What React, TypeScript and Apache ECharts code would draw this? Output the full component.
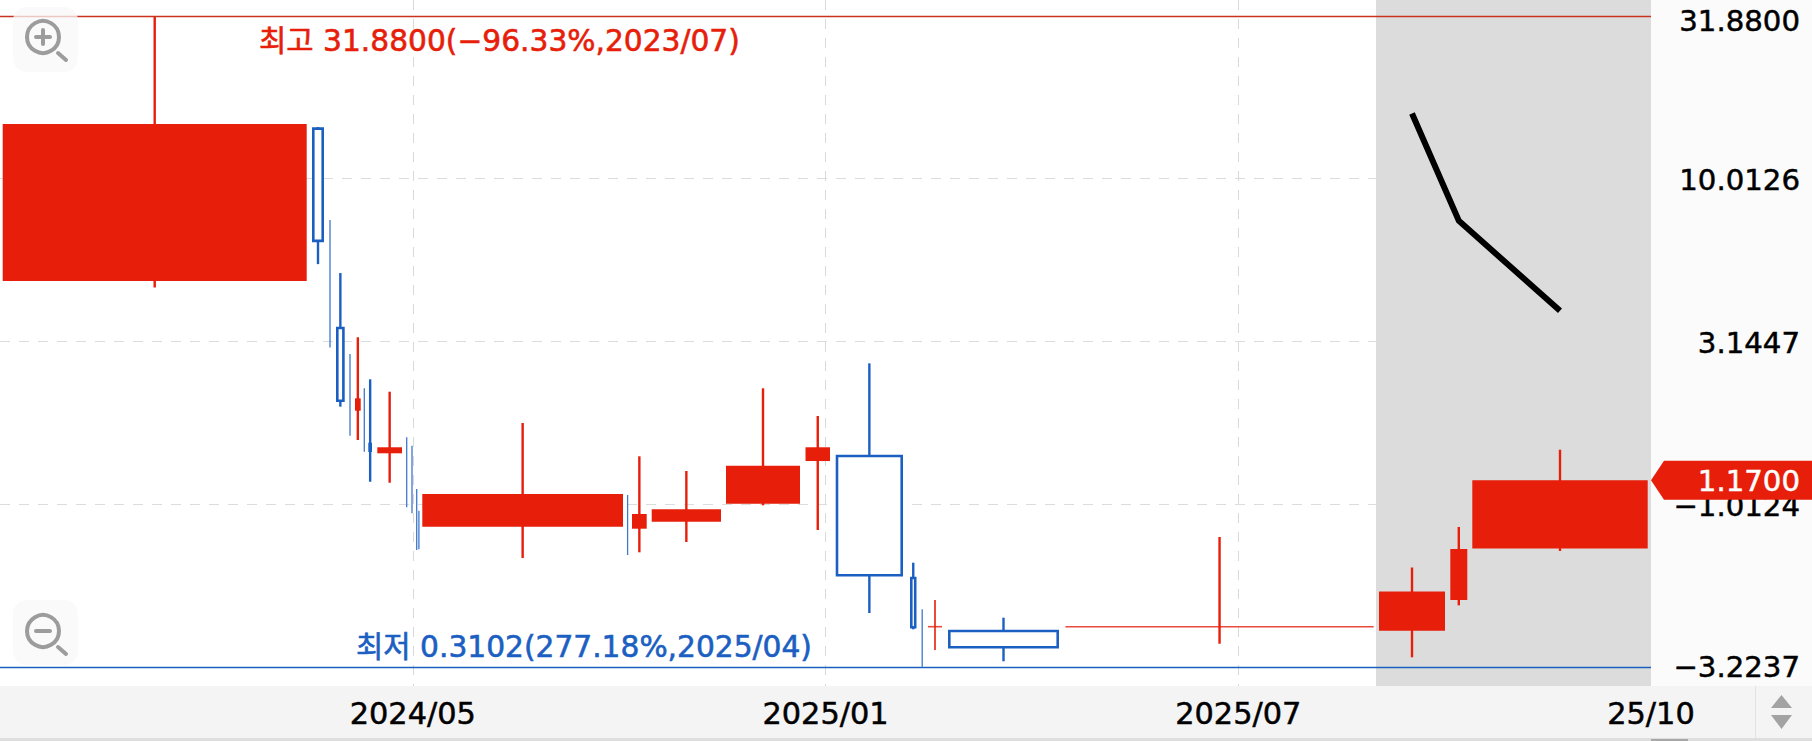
import React, { useEffect, useRef } from "react";
import * as echarts from "echarts";

// Price scale
const priceHigh = 31.88;
const priceLow = 0.3102;
const lastPrice = 1.17;
const yTickLabels = ["−3.2237", "−1.0124", "3.1447", "10.0126", "31.8800"];
const xTickLabels = ["", "2024/05", "2025/01", "2025/07", "25/10"];
const highLabel = "최고 31.8800(−96.33%,2023/07)";
const lowLabel = "최저 0.3102(277.18%,2025/04)";
const lastLabel = "1.1700";

// Equivolume candles: each one spans periodStart..periodEnd on the horizontal scale
const periodStart = [2.7, 312, 329.6, 336, 349.6, 355, 363.9, 368.3, 377.3, 406.3, 411.6, 416.3, 418, 422.3, 627.2, 632, 651.7, 726, 805.5, 835.7, 910, 921.8, 928, 948, 1065.4, 1379, 1450.3, 1472.3];
const periodEnd = [306.7, 324, 330.4, 344.7, 350.4, 360.7, 364.7, 372, 402, 407.1, 412.4, 417.1, 419.8, 623, 628, 646.7, 721, 800, 830, 903, 916.5, 922.6, 942, 1059, 1373.7, 1445, 1467.3, 1647.7];
const opens = [4.833, 14.3, 6.0, 3.459, 2.5, 1.92, 2.0, 1.529, 1.418, 1.4, 1.3, 1.0, 0.9, 0.8409, 0.95, 0.829, 0.8713, 0.9904, 1.342, 1.391, 0.5837, 0.42, 0.4127, 0.4002, 0.4127, 0.4008, 0.4991, 0.7195];
const closes = [14.78, 6.43, 3.3, 2.062, 1.8, 2.097, 1.6, 1.431, 1.48, 1.05, 1.0, 0.8, 0.75, 1.061, 0.75, 0.9204, 0.9518, 1.298, 1.48, 0.595, 0.411, 0.36, 0.4127, 0.3564, 0.4127, 0.5298, 0.7175, 1.17];
const highs = [31.88, 14.47, 7.46, 5.116, 2.875, 3.238, 2.252, 2.401, 2.198, 1.589, 1.497, 1.1, 0.9423, 1.759, 1.054, 1.388, 1.25, 2.252, 1.849, 2.69, 0.6508, 0.4671, 0.4991, 0.44, 0.7814, 0.6289, 0.8391, 1.4546];
const lows = [4.616, 5.45, 3.01, 1.976, 1.607, 1.559, 1.434, 1.158, 1.15, 0.965, 0.925, 0.7124, 0.7159, 0.6729, 0.6875, 0.7008, 0.7541, 0.9793, 0.8214, 0.455, 0.4051, 0.3102, 0.3496, 0.3226, 0.3656, 0.3319, 0.4805, 0.7073];

// Black line over the last three candles
const lineValues = [15.92, 7.42, 3.912];

const forecastBand = [1376, 1651];

const RED = "#E61E0A";
const BLUE = "#1C5FC2";
const FONT = "DejaVu Sans";
const KFONT = '"DejaVu Sans", "Noto Sans CJK KR"';

const stepRatio = Math.pow(priceHigh / priceLow, 1 / 4);
const toAxis = (v: number) => Math.log(v / priceLow) / Math.log(stepRatio);

const candleData = periodStart.map((s, i) => [
  s,
  periodEnd[i],
  toAxis(opens[i]),
  toAxis(closes[i]),
  toAxis(highs[i]),
  toAxis(lows[i]),
]);

function renderCandle(_p: any, api: any) {
  const s = api.value(0);
  const e = api.value(1);
  const o = api.value(2);
  const c = api.value(3);
  const h = api.value(4);
  const l = api.value(5);
  const up = c >= o;
  const color = up ? RED : BLUE;
  const xl = api.coord([s, 0])[0];
  const xr = api.coord([e, 0])[0];
  const xm = (xl + xr) / 2;
  const yTop = api.coord([s, Math.max(o, c)])[1];
  const yBot = api.coord([s, Math.min(o, c)])[1];
  const yH = api.coord([s, h])[1];
  const yL = api.coord([s, l])[1];
  const w = xr - xl;
  const thin = w < 2.5;
  const children: any[] = [];
  const lineW = thin ? 1.3 : w < 16 && up && yBot - yTop < 1 ? 1.6 : 2.4;
  children.push({
    type: "line",
    shape: { x1: xm, y1: yH, x2: xm, y2: yL },
    style: { stroke: thin && !up ? "#3F78CC" : color, lineWidth: lineW },
  });
  if (!thin) {
    if (up) {
      const flat = yBot - yTop < 1;
      children.push({
        type: "rect",
        shape: { x: xl, y: flat ? yTop - 0.8 : yTop, width: w, height: flat ? 1.6 : yBot - yTop },
        style: { fill: color, opacity: flat ? 0.8 : 1 },
      });
    } else if (w < 5) {
      children.push({
        type: "rect",
        shape: { x: xl, y: yTop, width: w, height: yBot - yTop },
        style: { fill: color },
      });
    } else {
      children.push({
        type: "rect",
        shape: { x: xl + 1.3, y: yTop, width: w - 2.6, height: yBot - yTop },
        style: { fill: "#fff", stroke: color, lineWidth: 2.6 },
      });
    }
  }
  return { type: "group", children };
}

function renderTag(_p: any, api: any) {
  const pt = api.coord([api.value(0), api.value(1)]);
  const x = pt[0];
  const y = pt[1];
  return {
    type: "group",
    children: [
      {
        type: "polygon",
        shape: { points: [[x, y], [x + 13, y - 19.5], [1812, y - 19.5], [1812, y + 19.5], [x + 13, y + 19.5]] },
        style: { fill: RED },
      },
      {
        type: "text",
        x: 1800,
        y: y + 1,
        style: { text: lastLabel, fill: "#fff", stroke: "#fff", lineWidth: 0.5, font: `29.2px "${FONT}"`, align: "right", verticalAlign: "middle" },
      },
    ],
  };
}

function icon(cy: number, plus: boolean) {
  const gray = "#9c9c9c";
  const parts: any[] = [
    { type: "circle", z: 21, shape: { cx: 43, cy, r: 16 }, style: { fill: "transparent", stroke: gray, lineWidth: 4 } },
    { type: "line", z: 21, shape: { x1: 58, y1: cy + 16, x2: 66, y2: cy + 23 }, style: { stroke: gray, lineWidth: 4, lineCap: "round" } },
    { type: "line", z: 21, shape: { x1: 36, y1: cy, x2: 50, y2: cy }, style: { stroke: gray, lineWidth: 4, lineCap: "round" } },
  ];
  if (plus) {
    parts.push({ type: "line", z: 21, shape: { x1: 43, y1: cy - 7, x2: 43, y2: cy + 7 }, style: { stroke: gray, lineWidth: 4, lineCap: "round" } });
  }
  return parts;
}

const tickText = {
  color: "#000",
  fontFamily: FONT,
  fontSize: 29.2,
  textBorderColor: "#000",
  textBorderWidth: 0.5,
};

export default function App() {
  const ref = useRef<HTMLDivElement>(null);
  useEffect(() => {
    const chart = echarts.init(ref.current!, undefined, { renderer: "svg" });
    const tick = 412.75;
    chart.setOption({
      animation: false,
      backgroundColor: "#fff",
      grid: [
        { left: 0, top: 0, width: 1651, height: 686, outerBoundsMode: "none" },
        { left: 0, top: 16, width: 1651, height: 650.8, outerBoundsMode: "none" },
      ],
      xAxis: [
        {
          type: "value",
          gridIndex: 0,
          min: 0,
          max: tick * 4,
          interval: tick,
          axisLine: { show: false },
          axisTick: { show: false },
          splitLine: { show: true, showMinLine: false, showMaxLine: false, lineStyle: { color: "#d9d9d9", type: [10, 9], width: 1 } },
          axisLabel: {
            color: "#000",
            fontFamily: FONT,
            fontSize: 30.4,
            margin: 12,
            textBorderColor: "#000",
            textBorderWidth: 0.5,
            showMinLabel: true,
            showMaxLabel: true,
            hideOverlap: false,
            formatter: (v: number) => xTickLabels[Math.round(v / tick)],
          },
        },
        { type: "value", gridIndex: 1, min: 0, max: tick * 4, show: false },
      ],
      yAxis: [
        { type: "value", gridIndex: 0, min: 0, max: 1, show: false },
        {
          type: "value",
          gridIndex: 1,
          position: "right",
          min: 0,
          max: 4,
          interval: 1,
          axisLine: { show: false },
          axisTick: { show: false },
          splitLine: { show: true, showMinLine: false, showMaxLine: false, lineStyle: { color: "#dcdcdc", type: [10, 9], width: 1 } },
          axisLabel: {
            ...tickText,
            align: "right",
            margin: 149,
            showMinLabel: true,
            showMaxLabel: true,
            formatter: (v: number) => {
              const i = Math.round(v);
              const style = i === 4 ? "a" : i === 0 ? "c" : "b";
              return `{${style}|${yTickLabels[i]}}`;
            },
            rich: {
              a: { ...tickText, padding: [9, 0, 0, 0] },
              b: { ...tickText, padding: [3, 0, 0, 0] },
              c: { ...tickText },
            },
          },
        },
      ],
      series: [
        {
          type: "line",
          xAxisIndex: 0,
          yAxisIndex: 0,
          z: -1,
          data: [],
          silent: true,
          markArea: {
            silent: true,
            itemStyle: { color: "#dcdcdc" },
            data: [[{ xAxis: forecastBand[0] }, { xAxis: forecastBand[1] }]],
          },
        },
        {
          type: "custom",
          xAxisIndex: 1,
          yAxisIndex: 1,
          z: 3,
          clip: false,
          renderItem: renderCandle,
          encode: { x: [0, 1], y: [2, 3, 4, 5] },
          data: candleData,
          markLine: {
            silent: true,
            symbol: "none",
            label: { show: false },
            data: [
              { yAxis: toAxis(priceHigh), lineStyle: { color: "#C8321E", type: "solid", width: 1.3 } },
              { yAxis: toAxis(priceLow), lineStyle: { color: BLUE, type: "solid", width: 1.3 } },
            ],
          },
        },
        {
          type: "line",
          xAxisIndex: 1,
          yAxisIndex: 1,
          z: 4,
          showSymbol: false,
          symbol: "none",
          lineStyle: { color: "#000", width: 6, cap: "butt", join: "miter" },
          data: lineValues.map((v, i) => {
            const k = periodStart.length - lineValues.length + i;
            return [(periodStart[k] + periodEnd[k]) / 2, toAxis(v)];
          }),
        },
        {
          type: "custom",
          xAxisIndex: 1,
          yAxisIndex: 1,
          z: 6,
          clip: false,
          renderItem: renderTag,
          encode: { x: 0, y: 1 },
          data: [[tick * 4, toAxis(lastPrice)]],
        },
      ],
      graphic: [
        { type: "rect", z: -10, shape: { x: 1651, y: 0, width: 161, height: 686 }, style: { fill: "#fbfbfb" } },
        { type: "rect", z: -10, shape: { x: 0, y: 686, width: 1812, height: 52 }, style: { fill: "#f4f4f4" } },
        { type: "rect", z: -10, shape: { x: 0, y: 738, width: 1812, height: 3 }, style: { fill: "#dedede" } },
        { type: "rect", z: -9, shape: { x: 1651, y: 739, width: 37, height: 2 }, style: { fill: "#a8a8a8" } },
        { type: "line", z: -9, shape: { x1: 1755.5, y1: 686, x2: 1755.5, y2: 738 }, style: { stroke: "#e2e2e2", lineWidth: 1 } },
        { type: "polygon", z: 5, shape: { points: [[1781.5, 695], [1792, 708], [1771, 708]] }, style: { fill: "#a3a3a3" } },
        { type: "polygon", z: 5, shape: { points: [[1771, 715], [1792, 715], [1781.5, 729]] }, style: { fill: "#a3a3a3" } },
        { type: "rect", z: 20, shape: { x: 13, y: 7, width: 65, height: 65, r: 14 }, style: { fill: "rgba(248,248,248,0.75)" } },
        { type: "rect", z: 20, shape: { x: 13, y: 600, width: 65, height: 65, r: 14 }, style: { fill: "rgba(248,248,248,0.75)" } },
        ...icon(37, true),
        ...icon(631, false),
        {
          type: "text",
          z: 8,
          x: 259,
          y: 40,
          style: { text: highLabel, fill: RED, stroke: RED, lineWidth: 0.6, font: `29.7px ${KFONT}`, align: "left", verticalAlign: "middle" },
        },
        {
          type: "text",
          z: 8,
          x: 356,
          y: 646,
          style: { text: lowLabel, fill: BLUE, stroke: BLUE, lineWidth: 0.6, font: `29.7px ${KFONT}`, align: "left", verticalAlign: "middle" },
        },
      ],
    });
    return () => chart.dispose();
  }, []);
  return <div ref={ref} style={{ position: "absolute", left: 0, top: 0, width: 1812, height: 741 }} />;
}
